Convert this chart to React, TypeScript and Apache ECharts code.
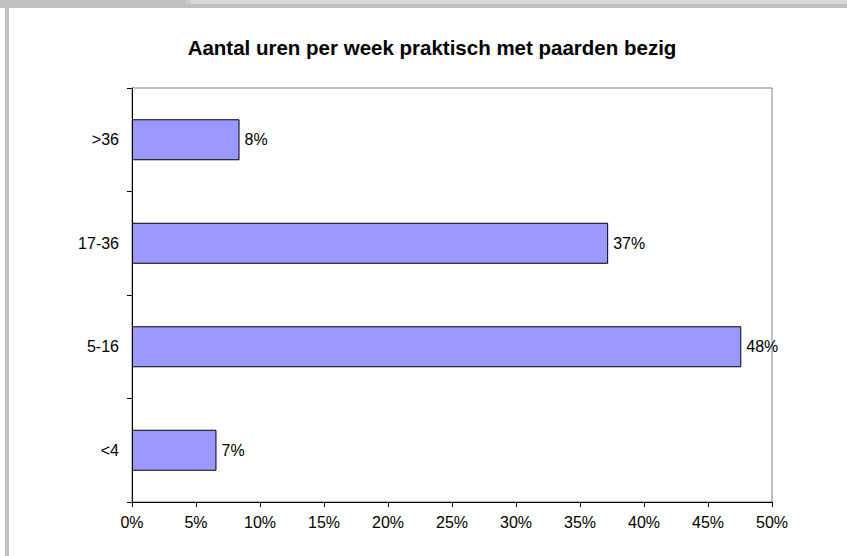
import React, { useEffect, useRef } from "react";
import * as echarts from "echarts";

const categories = ["<4", "5-16", "17-36", ">36"];
const values = [6.6, 47.6, 37.2, 8.4];
const xTicks = { min: 0, max: 50, interval: 5 };
const titleText = "Aantal uren per week praktisch met paarden bezig";
const headerGlyphs = ["p", "p", "g", "y"];
const headerGlyphX = [263, 415, 557, 620];

export default function App() {
  const ref = useRef<HTMLDivElement>(null);
  useEffect(() => {
    document.body.style.margin = "0";
    const chart = echarts.init(ref.current!, null, { renderer: "svg" });
    const font = "'Liberation Sans', Arial, sans-serif";
    chart.setOption({
      animation: false,
      backgroundColor: "#ffffff",
      graphic: [
        ...headerGlyphs.map((g, i) => ({
          type: "text",
          x: headerGlyphX[i],
          y: 0,
          z: 1,
          style: {
            text: g,
            fontFamily: font,
            fontWeight: "bold",
            fontSize: 17,
            fill: "#000",
            textVerticalAlign: "bottom",
          },
        })),
        { type: "rect", shape: { x: 0, y: 0, width: 190, height: 8 }, style: { fill: "#c0c0c0" }, z: 0 },
        { type: "rect", shape: { x: 190, y: 0, width: 657, height: 4 }, style: { fill: "#d8d8d8" }, z: 0 },
        { type: "rect", shape: { x: 186, y: 0, width: 4, height: 4 }, style: { fill: "#cacaca" }, z: 0 },
        { type: "rect", shape: { x: 190, y: 4, width: 657, height: 4 }, style: { fill: "#c0c0c0" }, z: 2 },
        { type: "rect", shape: { x: 5, y: 8, width: 4, height: 548 }, style: { fill: "#c0c0c0" }, z: 2 },
        {
          type: "text",
          x: 432,
          y: 47,
          style: {
            text: titleText,
            fontFamily: font,
            fontWeight: "bold",
            fontSize: 20.5,
            fill: "#000",
            textAlign: "center",
            textVerticalAlign: "middle",
          },
        },
      ],
      grid: {
        left: 132,
        right: 75,
        top: 88,
        bottom: 54,
        show: true,
        borderColor: "#808080",
        borderWidth: 1,
        backgroundColor: "#ffffff",
      },
      xAxis: {
        type: "value",
        min: xTicks.min,
        max: xTicks.max,
        interval: xTicks.interval,
        axisLine: { show: true, lineStyle: { color: "#000", width: 1 } },
        axisTick: { show: true, length: 5, lineStyle: { color: "#000" } },
        splitLine: { show: false },
        axisLabel: {
          formatter: "{value}%",
          color: "#000",
          fontFamily: font,
          fontSize: 16,
          margin: 12,
        },
      },
      yAxis: {
        type: "category",
        data: categories,
        axisLine: { show: true, lineStyle: { color: "#000", width: 1 } },
        axisTick: { show: true, length: 5, lineStyle: { color: "#000" } },
        axisLabel: { color: "#000", fontFamily: font, fontSize: 16, margin: 13 },
      },
      series: [
        {
          type: "bar",
          data: values,
          barWidth: 41,
          itemStyle: { color: "#9999ff", borderColor: "#000", borderWidth: 1 },
          label: {
            show: true,
            position: "right",
            distance: 5,
            formatter: (p: any) => `${Math.round(p.value)}%`,
            color: "#000",
            fontFamily: font,
            fontSize: 16,
          },
        },
      ],
    });
    return () => chart.dispose();
  }, []);
  return <div ref={ref} style={{ width: 847, height: 556 }} />;
}
